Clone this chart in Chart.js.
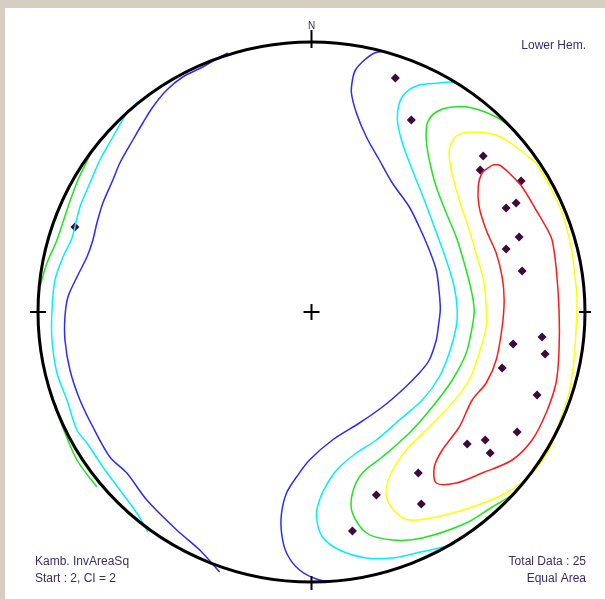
<!DOCTYPE html>
<html>
<head>
<meta charset="utf-8">
<title>Stereonet - Kamb contours</title>
<script src="https://cdn.jsdelivr.net/npm/chart.js@4.4.0/dist/chart.umd.min.js"></script>
<style>
    html, body { margin: 0; padding: 0; }
    body { width: 605px; height: 599px; background: #d6cfc1; position: relative; overflow: hidden; }
    #panel { position: absolute; left: 5px; top: 8px; width: 600px; height: 591px; background: #ffffff; }
    #net { display: block; }
</style>
</head>
<body>
<div id="panel"><canvas id="net" width="600" height="591"></canvas></div>
<script>
// Poles, in net units (east, north) from the centre; net radius ~274 x 270
const poles = [
    [84, 234], [100, 192], [172, 156], [169, 142], [210, 131], [195, 104], [205, 109],
    [208, 75], [195, 63], [211, 41], [-237, 85], [231, -25], [202, -32], [234, -42],
    [191, -56], [226, -83], [206, -120], [156, -132], [174, -128], [179, -141],
    [107, -161], [65, -183], [110, -192], [41, -219]
];

// Contour levels: Start 2, CI 2
const levels = [2, 4, 6, 8, 10];

// Level 2 (blue)
const blueEast = [
    [73, 261], [63, 259], [53, 252], [44, 242], [41, 232], [40, 219], [45, 199], [55, 175],
    [68, 152], [81, 129], [98, 105], [108, 85], [118, 62], [125, 42], [128, 19], [129, 2],
    [127, -15], [125, -28], [118, -48], [108, -61], [91, -78], [71, -95], [48, -111],
    [21, -128], [-2, -148], [-15, -165], [-25, -181], [-30, -201], [-30, -221], [-25, -241],
    [-12, -258], [8, -268], [28, -270]
];
const blueWest = [
    [-84, 259], [-97, 252], [-109, 245], [-129, 235], [-145, 222], [-159, 205], [-169, 189],
    [-179, 172], [-192, 149], [-199, 132], [-209, 109], [-215, 89], [-219, 72], [-225, 55],
    [-235, 35], [-244, 15], [-247, -5], [-247, -28], [-242, -58], [-232, -88], [-219, -115],
    [-202, -145], [-185, -161], [-165, -188], [-135, -218], [-112, -238], [-92, -260]
];

// Level 4 (cyan)
const cyanEast = [
    [148, 228], [138, 230], [128, 229], [108, 227], [95, 220], [88, 209], [86, 192], [91, 169],
    [101, 142], [113, 112], [123, 85], [135, 52], [143, 25], [146, 2], [145, -15], [138, -41],
    [128, -65], [111, -88], [88, -108], [65, -128], [45, -141], [28, -155], [18, -168],
    [8, -188], [5, -205], [11, -225], [28, -238], [55, -246], [81, -246], [105, -241],
    [128, -236], [143, -232]
];
const cyanWest = [
    [-174, 210], [-185, 199], [-199, 175], [-212, 152], [-222, 129], [-232, 105], [-240, 74],
    [-249, 55], [-257, 32], [-260, 2], [-260, -28], [-255, -61], [-245, -88], [-235, -118],
    [-225, -131], [-209, -155], [-192, -178], [-175, -201], [-164, -220]
];

// Level 6 (green)
const greenEast = [
    [201, 184], [185, 195], [161, 204], [141, 205], [125, 200], [116, 189], [115, 172],
    [118, 152], [125, 125], [135, 99], [145, 75], [153, 49], [160, 22], [163, 2], [161, -15],
    [155, -41], [141, -68], [121, -95], [98, -121], [71, -145], [51, -161], [41, -181],
    [41, -201], [55, -221], [81, -228], [111, -226], [155, -211], [181, -195], [203, -182]
];
const greenWestUpper = [
    [-222, 157], [-234, 132], [-244, 105], [-255, 72], [-265, 49], [-272, 25], [-274, 12]
];
const greenWestLower = [
    [-262, -81], [-252, -108], [-235, -148], [-215, -175]
];

// Level 8 (yellow)
const yellowLoop = [
    [225, 149], [205, 165], [185, 177], [161, 180], [145, 176], [138, 162], [140, 142],
    [148, 112], [158, 82], [166, 55], [173, 29], [175, 2], [175, -15], [168, -41], [158, -68],
    [141, -91], [118, -115], [95, -138], [78, -165], [75, -185], [85, -201], [98, -208],
    [125, -205], [161, -195], [195, -181], [221, -161], [239, -136], [249, -108], [258, -81],
    [263, -48], [265, -18], [266, 12], [264, 35], [260, 65], [251, 99], [239, 125], [225, 149]
];

// Level 10 (red)
const redLoop = [
    [181, 147], [171, 139], [167, 125], [168, 105], [175, 82], [185, 59], [191, 35], [193, 12],
    [191, -15], [185, -48], [175, -71], [161, -88], [148, -115], [131, -138], [123, -155],
    [125, -171], [145, -171], [171, -161], [201, -148], [221, -128], [235, -101], [245, -71],
    [248, -38], [248, 2], [245, 45], [241, 72], [235, 85], [225, 102], [211, 125], [198, 139],
    [188, 147], [181, 147]
];

const netRadiusX = 274;
const netRadiusY = 270;

function toPoints(list) {
    return list.map(p => ({ x: p[0], y: p[1] }));
}

function contour(list, color) {
    return {
        type: 'scatter',
        data: toPoints(list),
        showLine: true,
        borderColor: color,
        borderWidth: 1.5,
        pointRadius: 0,
        tension: 0.3,
        fill: false
    };
}

// Draws the primitive circle, ticks, centre cross and the labels
const netPlugin = {
    id: 'netFrame',
    afterDatasetsDraw(chart) {
        const ctx = chart.ctx;
        const xs = chart.scales.x;
        const ys = chart.scales.y;
        const cx = xs.getPixelForValue(0);
        const cy = ys.getPixelForValue(0);
        const rx = xs.getPixelForValue(netRadiusX) - cx;
        const ry = cy - ys.getPixelForValue(netRadiusY);

        ctx.save();
        ctx.strokeStyle = '#000000';
        ctx.lineWidth = 3;
        ctx.beginPath();
        ctx.ellipse(cx, cy, rx, ry, 0, 0, Math.PI * 2);
        ctx.stroke();

        ctx.lineWidth = 2;
        ctx.beginPath();
        // N, S, W, E ticks
        ctx.moveTo(cx, cy - ry - 12); ctx.lineTo(cx, cy - ry + 6);
        ctx.moveTo(cx, cy + ry - 6); ctx.lineTo(cx, cy + ry + 8);
        ctx.moveTo(cx - rx - 8, cy); ctx.lineTo(cx - rx + 8, cy);
        ctx.moveTo(cx + rx - 6, cy); ctx.lineTo(cx + rx + 6, cy);
        // centre cross
        ctx.moveTo(cx - 8, cy); ctx.lineTo(cx + 8, cy);
        ctx.moveTo(cx, cy - 8); ctx.lineTo(cx, cy + 8);
        ctx.stroke();

        ctx.fillStyle = '#3a2d6e';
        ctx.font = '10px "Liberation Sans", Arial, sans-serif';
        ctx.textAlign = 'center';
        ctx.textBaseline = 'middle';
        ctx.fillText('N', cx, cy - ry - 16);

        ctx.font = '12px "Liberation Sans", Arial, sans-serif';
        ctx.textAlign = 'right';
        ctx.fillText('Lower Hem.', 581, 38);
        ctx.fillText('Total Data : 25', 581, 554);
        ctx.fillText('Equal Area', 581, 571);
        ctx.textAlign = 'left';
        ctx.fillText('Kamb. InvAreaSq', 30, 554);
        ctx.fillText('Start : 2, CI = ' + (levels[1] - levels[0]), 30, 571);
        ctx.restore();
    }
};

const datasets = [
    contour(blueEast, '#2b2bff'),
    contour(blueWest, '#2b2bff'),
    contour(cyanEast, '#00f0ff'),
    contour(cyanWest, '#00f0ff'),
    contour(greenEast, '#1ee61e'),
    contour(greenWestUpper, '#1ee61e'),
    contour(greenWestLower, '#1ee61e'),
    contour(yellowLoop, '#ffff00'),
    contour(redLoop, '#ff1a1a'),
    {
        type: 'scatter',
        data: toPoints(poles),
        pointStyle: 'rectRot',
        pointRadius: 4.5,
        backgroundColor: '#3d0a3d',
        borderColor: '#3d0a3d',
        borderWidth: 0
    }
];

new Chart(document.getElementById('net').getContext('2d'), {
    type: 'scatter',
    data: { datasets },
    options: {
        responsive: false,
        animation: false,
        layout: { padding: { left: 33, top: 34, right: 20, bottom: 17 } },
        plugins: { legend: { display: false }, tooltip: { enabled: false } },
        scales: {
            x: { type: 'linear', min: -netRadiusX, max: netRadiusX, display: false },
            y: { type: 'linear', min: -netRadiusY, max: netRadiusY, display: false }
        }
    },
    plugins: [netPlugin]
});
</script>
</body>
</html>
